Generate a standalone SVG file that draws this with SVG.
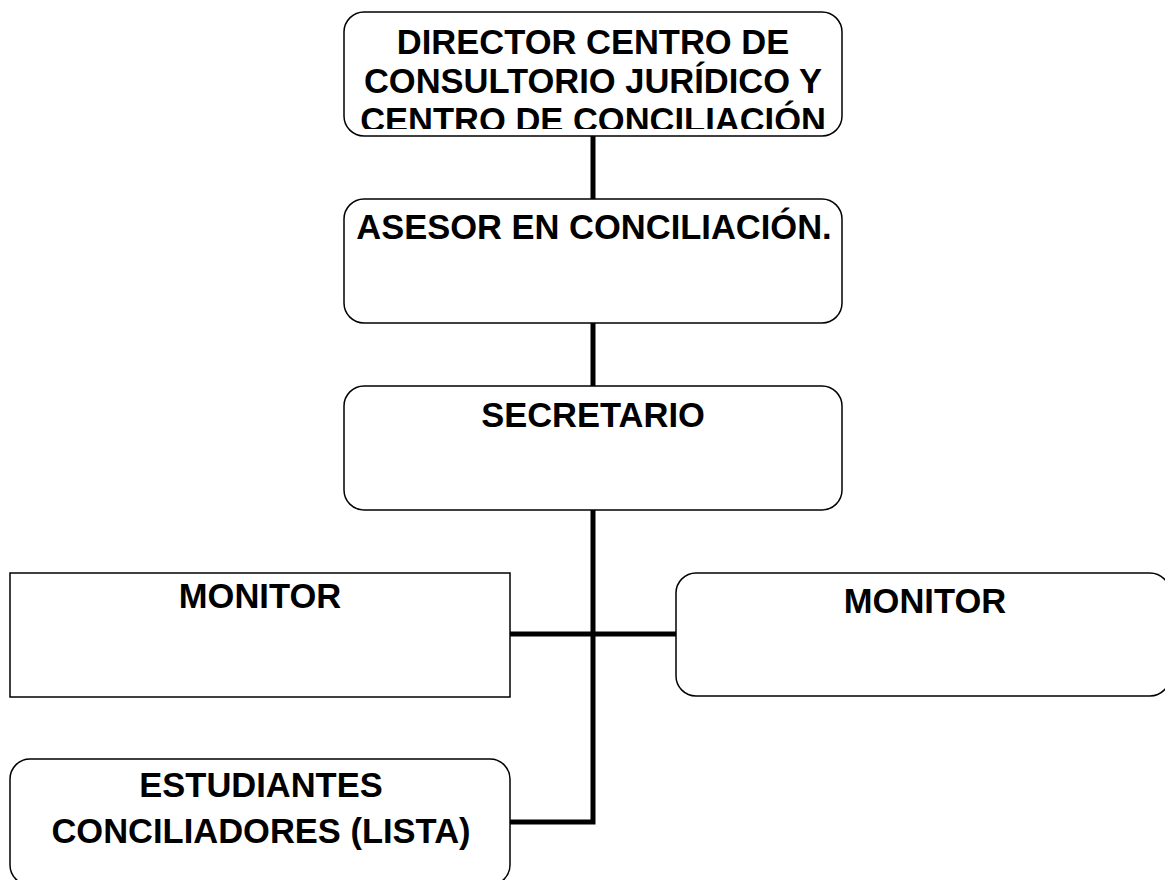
<svg xmlns="http://www.w3.org/2000/svg" width="1165" height="880" viewBox="0 0 1165 880">
<style>
.box{fill:#fff;stroke:#000;stroke-width:1.5}
.t{font-family:"Liberation Sans",Arial,sans-serif;font-weight:bold;font-size:34.5px;fill:#000;text-anchor:middle}
.c{stroke:#000;stroke-width:5;fill:none}
</style>
<defs>
<clipPath id="clipDir"><rect x="344" y="12" width="498" height="117"/></clipPath>
</defs>
<rect width="1165" height="880" fill="#fff"/>
<g id="connectors">
<line class="c" x1="593" y1="136" x2="593" y2="199"/>
<line class="c" x1="593" y1="323" x2="593" y2="386"/>
<polyline class="c" points="593,510 593,822 510,822"/>
<line class="c" x1="510" y1="634" x2="676" y2="634"/>
</g>
<g id="director">
<rect class="box" x="344" y="12" width="498" height="124" rx="20"/>
<g clip-path="url(#clipDir)">
<text class="t" x="593" y="54">DIRECTOR CENTRO DE</text>
<text class="t" x="593" y="93">CONSULTORIO JURÍDICO Y</text>
<text class="t" x="593" y="132">CENTRO DE CONCILIACIÓN</text>
</g>
</g>
<g id="asesor">
<rect class="box" x="344" y="199" width="498" height="124" rx="20"/>
<text class="t" x="594" y="239">ASESOR EN CONCILIACIÓN.</text>
</g>
<g id="secretario">
<rect class="box" x="344" y="386" width="498" height="124" rx="20"/>
<text class="t" x="593" y="427">SECRETARIO</text>
</g>
<g id="monitor-left">
<rect class="box" x="10" y="573" width="500" height="124"/>
<text class="t" x="260" y="608">MONITOR</text>
</g>
<g id="monitor-right">
<rect class="box" x="676" y="573" width="494" height="123" rx="20"/>
<text class="t" x="925" y="613">MONITOR</text>
</g>
<g id="estudiantes">
<rect class="box" x="10" y="759" width="500" height="126" rx="20"/>
<text class="t" x="261" y="797">ESTUDIANTES</text>
<text class="t" x="261" y="843">CONCILIADORES (LISTA)</text>
</g>
</svg>
